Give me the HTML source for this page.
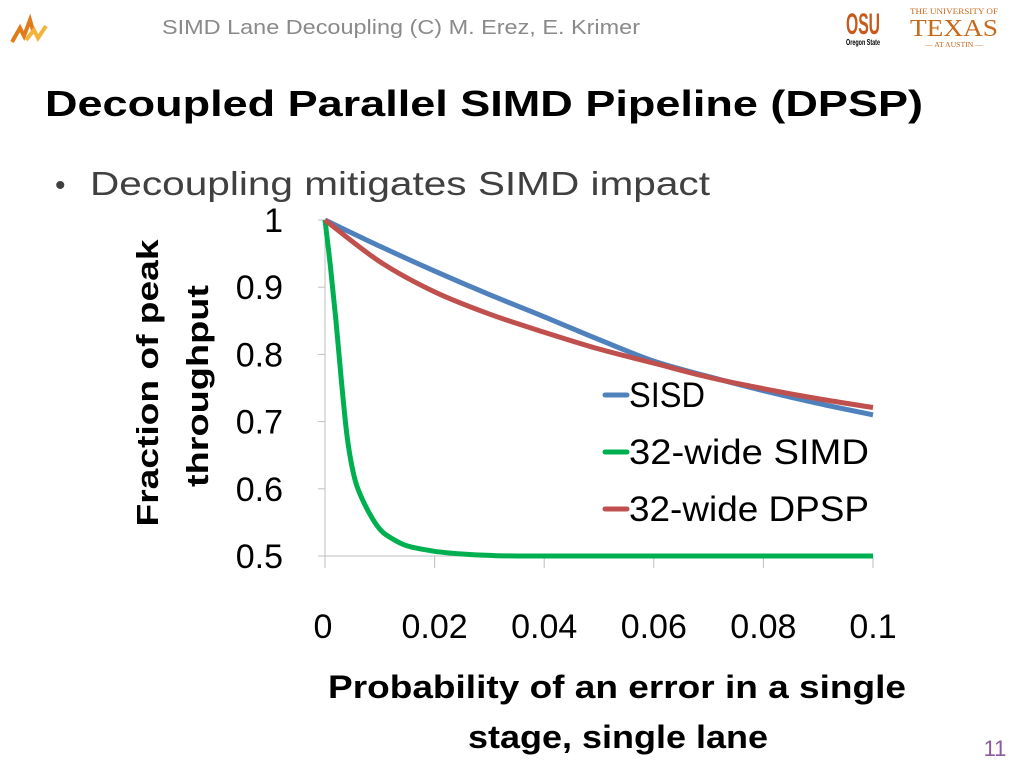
<!DOCTYPE html>
<html><head><meta charset="utf-8"><style>
body{margin:0;background:#fff;}
svg{display:block;font-family:"Liberation Sans",sans-serif;}
</style></head><body>
<svg width="1024" height="768" viewBox="0 0 1024 768">
  <g>
    <path d="M12 42 L20 28 L24 36 L30 20 L34 34" stroke="#e07a1a" stroke-width="4" fill="none"/>
    <path d="M26 40 L34 30 L38 38 L46 26" stroke="#f4b43c" stroke-width="4" fill="none"/>
  </g>
  <text x="162" y="34" font-size="20" fill="#8a8a8a" textLength="478" lengthAdjust="spacingAndGlyphs">SIMD Lane Decoupling (C) M. Erez, E. Krimer</text>
  <g>
    <text x="846" y="34" font-size="30" font-weight="bold" fill="#c8591c" textLength="34" lengthAdjust="spacingAndGlyphs">OSU</text>
    <text x="846" y="45" font-size="8" font-weight="bold" fill="#000" textLength="34" lengthAdjust="spacingAndGlyphs">Oregon State</text>
  </g>
  <g fill="#c8691c" font-family="Liberation Serif, serif">
    <text x="910" y="14" font-size="8" textLength="88" lengthAdjust="spacingAndGlyphs">THE UNIVERSITY OF</text>
    <text x="910" y="36" font-size="24" textLength="88" lengthAdjust="spacingAndGlyphs">TEXAS</text>
    <text x="925" y="47" font-size="7" textLength="58" lengthAdjust="spacingAndGlyphs">— AT AUSTIN —</text>
  </g>
  <text x="45" y="116" font-size="36" font-weight="bold" fill="#000" textLength="878" lengthAdjust="spacingAndGlyphs">Decoupled Parallel SIMD Pipeline (DPSP)</text>
  <text x="55" y="195" font-size="30" fill="#404040">•</text>
  <text x="90" y="195" font-size="33" fill="#404040" textLength="620" lengthAdjust="spacingAndGlyphs">Decoupling mitigates SIMD impact</text>
  <g id="chart"></g>
  <g font-weight="bold" font-size="31" fill="#000">
    <text transform="translate(158,383) rotate(-90)" text-anchor="middle" textLength="287" lengthAdjust="spacingAndGlyphs">Fraction of peak</text>
    <text transform="translate(208,386) rotate(-90)" text-anchor="middle" textLength="202" lengthAdjust="spacingAndGlyphs">throughput</text>
  </g>
  <g font-weight="bold" font-size="32" fill="#000" text-anchor="middle">
    <text x="617" y="698" textLength="578" lengthAdjust="spacingAndGlyphs">Probability of an error in a single</text>
    <text x="618" y="748" textLength="300" lengthAdjust="spacingAndGlyphs">stage, single lane</text>
  </g>
  <text x="995" y="756" font-size="22" fill="#8a5a9a" text-anchor="middle">11</text>
</svg>
<script>
const xTicks=[0,0.02,0.04,0.06,0.08,0.1];
const xTickLabels=["0","0.02","0.04","0.06","0.08","0.1"];
const yTicks=[0.5,0.6,0.7,0.8,0.9,1];
const yTickLabels=["0.5","0.6","0.7","0.8","0.9","1"];
const sisdP=[0,0.01,0.02,0.03,0.04,0.05,0.06,0.07,0.08,0.09,0.1];
const sisdV=[1,0.961,0.924,0.889,0.856,0.822,0.79,0.767,0.746,0.727,0.71];
const dpspP=[0,0.01,0.02,0.03,0.04,0.05,0.06,0.07,0.08,0.09,0.1];
const dpspV=[1,0.938,0.893,0.86,0.833,0.808,0.787,0.766,0.749,0.734,0.721];
const simdP=[0,0.001,0.002,0.003,0.004,0.005,0.006,0.008,0.01,0.012,0.015,0.02,0.025,0.03,0.04,0.1];
const simdV=[1,0.93,0.85,0.76,0.68,0.63,0.6,0.565,0.54,0.527,0.515,0.507,0.503,0.501,0.5,0.5];
const seriesNames=["SISD","32-wide SIMD","32-wide DPSP"];
const NS="http://www.w3.org/2000/svg";
const X0=325,X1=873,Y0=556,Y1=220;
function sx(v){return X0+(v-0)/(0.1-0)*(X1-X0);}
function sy(v){return Y0-(v-0.5)/(1-0.5)*(Y0-Y1);}
const g=document.getElementById('chart');
function mk(t,a){const e=document.createElementNS(NS,t);for(const k in a)e.setAttribute(k,a[k]);g.appendChild(e);return e;}
let ax=mk('line',{x1:X0,y1:Y1,x2:X0,y2:Y0,stroke:'#bfbfbf','stroke-width':1});


let bx=mk('line',{x1:X0,y1:Y0,x2:X1,y2:Y0,stroke:'#bfbfbf','stroke-width':1});


yTicks.forEach((v,i)=>{
  const t=mk('line',{x1:X0-7,y1:sy(v),x2:X0,y2:sy(v),stroke:'#bfbfbf'});
  
  
  const l=mk('text',{x:283,y:sy(v)+12,'font-size':34,'text-anchor':'end',fill:'#000'});
  l.textContent=yTickLabels[i];
  
  
});
xTicks.forEach((v,i)=>{
  const t=mk('line',{x1:sx(v),y1:Y0,x2:sx(v),y2:Y0+12,stroke:'#bfbfbf'});
  
  
  const l=mk('text',{x:sx(v)-(i==0?2:0),y:638,'font-size':34,'text-anchor':'middle',fill:'#000'});
  l.textContent=xTickLabels[i];
  
  
});
function path(P,V){
  const pts=P.map((p,i)=>[sx(p),sy(V[i])]);
  let d='M'+pts[0][0]+','+pts[0][1];
  for(let i=0;i<pts.length-1;i++){
    const p0=pts[Math.max(0,i-1)],p1=pts[i],p2=pts[i+1],p3=pts[Math.min(pts.length-1,i+2)];
    const c1=[p1[0]+(p2[0]-p0[0])/6,p1[1]+(p2[1]-p0[1])/6];
    const c2=[p2[0]-(p3[0]-p1[0])/6,p2[1]-(p3[1]-p1[1])/6];
    d+=' C'+c1+' '+c2+' '+p2;
  }
  return d;
}
const cols=['#4f81bd','#00b050','#c0504d'];
const data=[[sisdP,sisdV],[simdP,simdV],[dpspP,dpspV]];
const order=[1,0,2];
order.forEach(k=>{
  const e=mk('path',{d:path(data[k][0],data[k][1]),stroke:cols[k],'stroke-width':5,fill:'none','stroke-linejoin':'round'});
  
  
});
const legLen=[76,240,240];
seriesNames.forEach((n,i)=>{
  const y=395+i*57;
  const s=mk('line',{x1:605,y1:y,x2:627,y2:y,stroke:cols[i],'stroke-width':5,'stroke-linecap':'round'});
  
  
  const t=mk('text',{x:629,y:y+12,'font-size':35,fill:'#000',textLength:legLen[i],lengthAdjust:'spacingAndGlyphs'});
  t.textContent=n;
  
  
});
</script>
</body></html>
